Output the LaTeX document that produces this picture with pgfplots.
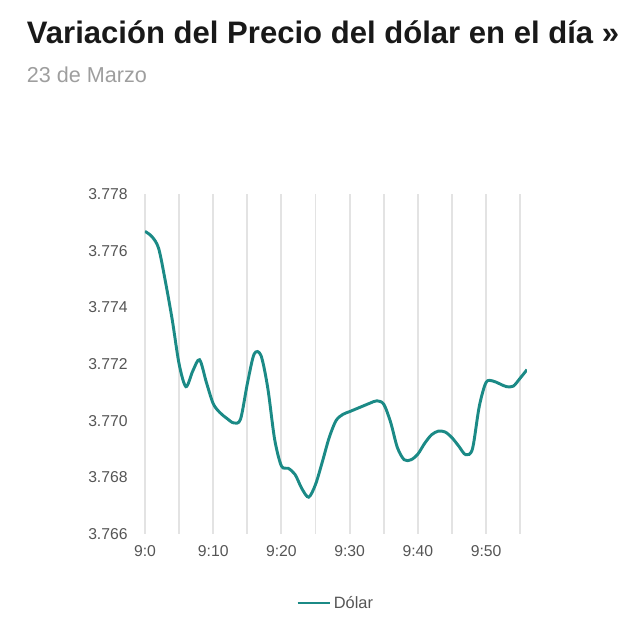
\documentclass[border=0pt]{standalone}
\usepackage{pgfplots}
\pgfplotsset{compat=1.18}
\usepackage{fontspec}
\setmainfont{Liberation Sans}
\definecolor{teal1}{HTML}{1B8A86}
\definecolor{gridc}{HTML}{E3E3E3}
\definecolor{tickc}{HTML}{555555}
\definecolor{subc}{HTML}{9E9E9E}
\pgfplotstableread{
m v
0 3.77668
1 3.77650
2 3.77608
3 3.77490
4 3.77355
5 3.77200
6 3.77120
7 3.77175
8 3.77215
9 3.77135
10 3.77060
11 3.77028
12 3.77008
13 3.76992
14 3.77005
15 3.77130
16 3.77235
17 3.77230
18 3.77115
19 3.76935
20 3.76840
21 3.76832
22 3.76810
23 3.76760
24 3.76730
25 3.76775
26 3.76855
27 3.76940
28 3.77000
29 3.77022
30 3.77032
31 3.77042
32 3.77052
33 3.77062
34 3.77070
35 3.77058
36 3.76995
37 3.76905
38 3.76862
39 3.76862
40 3.76882
41 3.76920
42 3.76950
43 3.76963
44 3.76960
45 3.76940
46 3.76910
47 3.76880
48 3.76900
49 3.77050
50 3.77135
51 3.77140
52 3.77130
53 3.77120
54 3.77122
55 3.77150
56 3.77180
}\dolar
\begin{document}
\begin{tikzpicture}
\path[use as bounding box] (0,0) rectangle (480pt,471pt);
\node[anchor=base west, inner sep=0pt, font=\fontsize{23.3pt}{26pt}\selectfont\bfseries, text=black!90] at (20pt,438.5pt) {Variación del Precio del dólar en el día »};
\node[anchor=base west, inner sep=0pt, font=\fontsize{16.2pt}{18pt}\selectfont, text=subc] at (20pt,409.3pt) {23 de Marzo};
\begin{axis}[
  at={(108.75pt,70.5pt)}, anchor=south west,
  scale only axis, width=286.5pt, height=255pt,
  xmin=0, xmax=56, ymin=3.766, ymax=3.778,
  axis line style={draw=none},
  major tick style={draw=none}, minor tick style={draw=none},
  xtick={0,10,...,50},
  xticklabels={9:0,9:10,9:20,9:30,9:40,9:50},
  minor xtick={5,15,...,55},
  xmajorgrids, xminorgrids,
  major grid style={gridc, line width=1.4pt},
  minor grid style={gridc, line width=1.4pt},
  ytick={3.766,3.768,...,3.7785},
  /pgf/number format/assume math mode=true,
  y tick label style={/pgf/number format/fixed, /pgf/number format/fixed zerofill, /pgf/number format/precision=3, xshift=-9.5pt},
  tick label style={font=\fontsize{11.8pt}{13pt}\selectfont, text=tickc},
  x tick label style={yshift=-5pt},
  legend style={at={(0.5,-0.203)}, anchor=center, draw=none, font=\fontsize{12.3pt}{14pt}\selectfont, text=tickc},
  legend image code/.code={\draw[#1, line width=2.2pt] (0pt,0pt) -- (24pt,0pt);},
]
\addplot[teal1, line width=2.2pt, smooth, tension=0.5] table[x=m, y=v] {\dolar};
\addlegendentry{Dólar}
\end{axis}
\end{tikzpicture}
\end{document}
